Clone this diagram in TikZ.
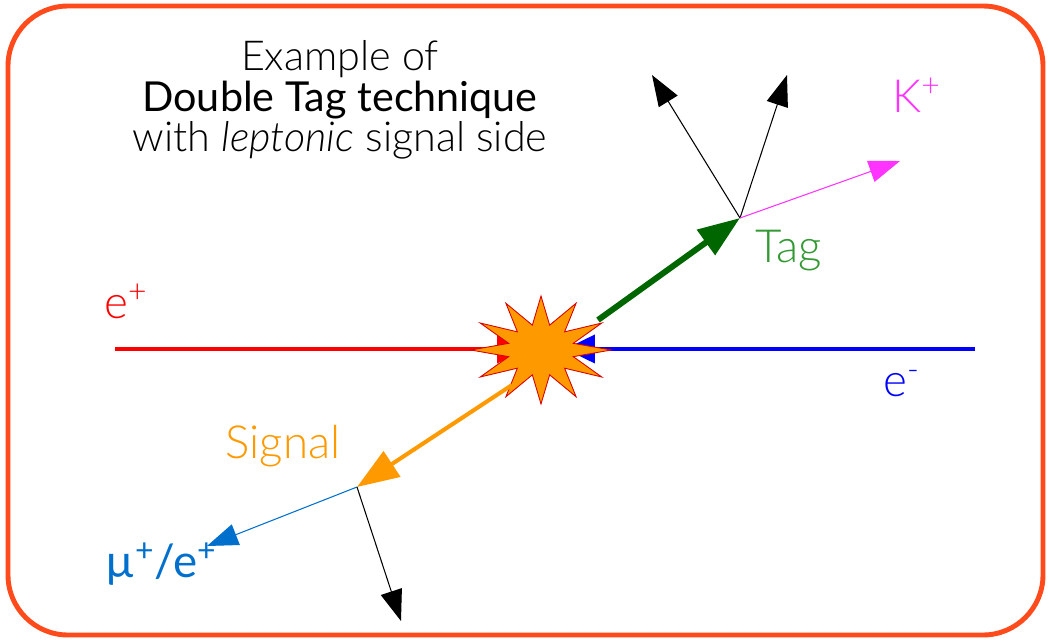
\documentclass[tikz,border=0pt]{standalone}
\usepackage{fontspec}
\setmainfont{Lato Light}[ItalicFont={Lato Light Italic}]
\newfontfamily\latoreg{Lato}
\usepackage{tikz}
\usetikzlibrary{arrows.meta,shapes.geometric}
\usepackage{xcolor}
\definecolor{frameorange}{HTML}{FF4A1C}
\definecolor{blastorange}{HTML}{FF9900}
\definecolor{tagdark}{HTML}{006600}
\definecolor{taglight}{HTML}{339933}
\definecolor{kaon}{HTML}{FF33FF}
\definecolor{lepton}{HTML}{0070CC}
\tikzset{
  frame/.style={draw=frameorange, line width=2.8pt, rounded corners=1.2cm},
  blast/.style={star, star points=12, star point ratio=2.1, minimum size=2.16cm, inner sep=0pt, xscale=1.3, transform shape, fill=blastorange, draw=red!85!black, line width=0.5pt},
  beam/.style={line width=2.3pt, -{Triangle[length=0.6cm, width=0.56cm]}},
  meson/.style={-{Triangle[length=0.84cm, width=0.6cm]}},
  track/.style={line width=0.6pt, -{Triangle[length=0.62cm, width=0.44cm]}},
  lbl/.style={font=\fontsize{26}{30}\selectfont, inner sep=0pt, anchor=base west},
  title/.style={font=\fontsize{23.5}{23}\selectfont, align=center, inner sep=0pt}
}
\begin{document}
\begin{tikzpicture}[x=0.02cm, y=-0.02cm]
  \useasboundingbox (0,0) rectangle (1049,640);
  \draw[frame] (8,6) rectangle (1043,635);

  \node[title] (head) at (340,100) {Example of\\{\latoreg Double Tag technique}\\with \textit{leptonic} signal side};

  % beams
  \coordinate (epsrc) at (115,349);
  \coordinate (ephit) at (527,349);
  \coordinate (emsrc) at (975,349);
  \coordinate (emhit) at (565,349);
  \draw[beam, red] (epsrc) -- (ephit);
  \draw[beam, blue] (emsrc) -- (emhit);
  \node[blast] (ip) at (541,350) {};
  \node[lbl, red] (eplus) at (104,318) {e\textsuperscript{+}};
  \node[lbl, blue] (eminus) at (883,396) {e\textsuperscript{-}};

  % tag side
  \coordinate (tagstart) at (598,320);
  \coordinate (tagvtx) at (740,218);
  \coordinate (pia) at (652,75);
  \coordinate (pib) at (787,75);
  \coordinate (kend) at (900,161);
  \draw[meson, tagdark, line width=3.4pt] (tagstart) -- (tagvtx);
  \draw[track] (tagvtx) -- (pia);
  \draw[track] (tagvtx) -- (pib);
  \draw[track, kaon] (tagvtx) -- (kend);
  \node[lbl, taglight] (tag) at (755,262) {Tag};
  \node[lbl, kaon] (kplus) at (892,112) {K\textsuperscript{+}};

  % signal side
  \coordinate (sigstart) at (512,385);
  \coordinate (sigvtx) at (357,487);
  \coordinate (lepend) at (207,546);
  \coordinate (nuend) at (401,621);
  \draw[meson, blastorange, line width=2.3pt] (sigstart) -- (sigvtx);
  \draw[track, lepton] (sigvtx) -- (lepend);
  \draw[track] (sigvtx) -- (nuend);
  \node[lbl, blastorange] (signal) at (225,458) {Signal};
  \node[lbl, lepton, font=\latoreg\fontsize{26}{30}\selectfont] (lep) at (105,577) {µ\textsuperscript{+}/e\textsuperscript{+}};
\end{tikzpicture}
\end{document}
